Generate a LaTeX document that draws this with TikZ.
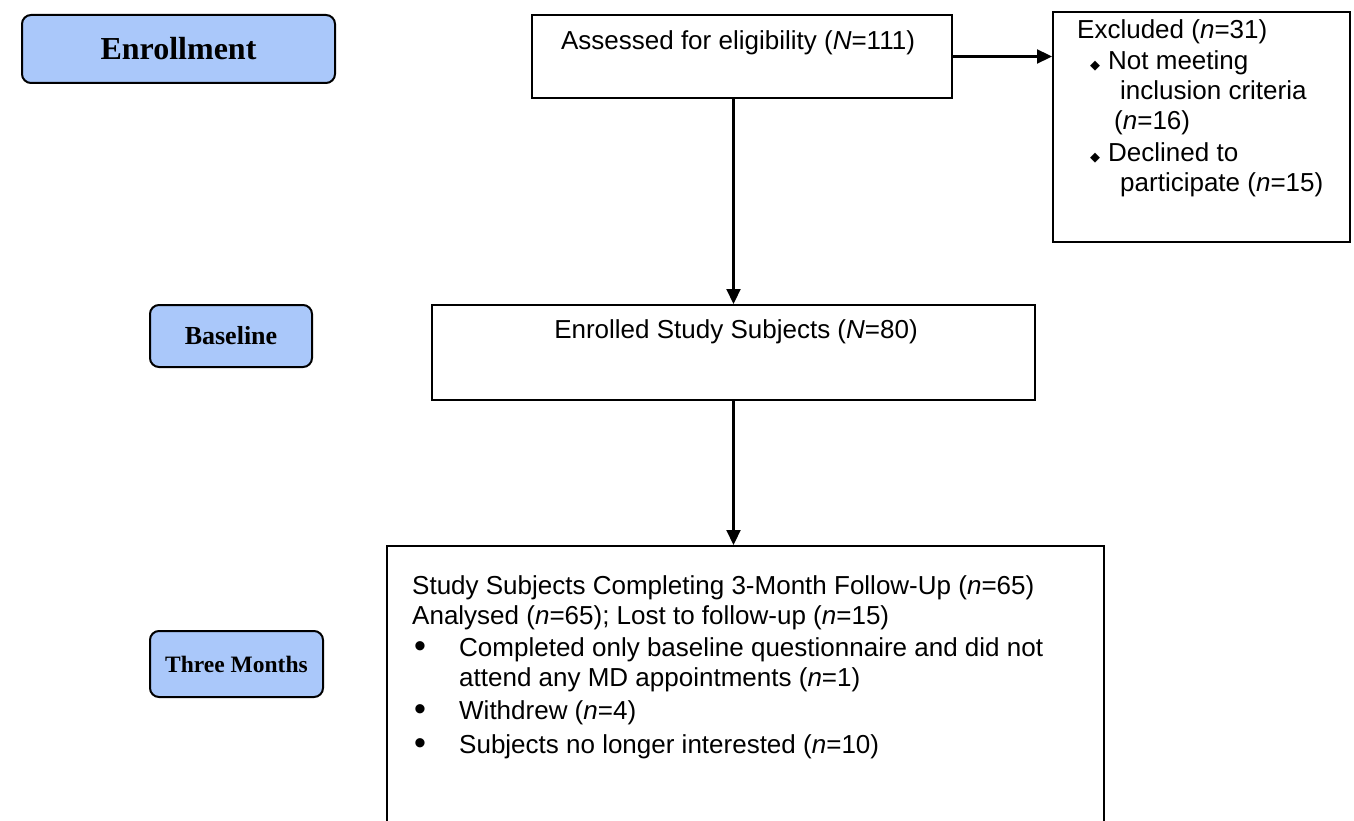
\documentclass[tikz,border=0pt]{standalone}
\usepackage{fontspec}
\setmainfont{Liberation Sans}
\newfontfamily\stagefont{Liberation Serif}
\newfontfamily\symfont{DejaVu Sans}
\usetikzlibrary{arrows.meta}

\definecolor{stageblue}{RGB}{170,200,250}

% bullets used in the boxes
\newcommand{\diaitem}{\makebox[31pt][l]{\hspace{13pt}{\symfont\fontsize{13}{13}\selectfont ◆}}}
\newcommand{\dotitem}{\makebox[47pt][l]{\hspace{2pt}\raisebox{-1pt}{\fontsize{34}{30}\selectfont\textbullet}}}

\tikzset{
  stage/.style={draw, line width=2pt, rounded corners=9pt, fill=stageblue,
    font=\stagefont\bfseries\fontsize{#1}{#1}\selectfont},
  flowbox/.style={draw, line width=2pt},
  flowtext/.style={inner sep=0pt, font=\fontsize{26}{30}\selectfont},
  flowarrow/.style={line width=2.2pt, -{Triangle[length=15pt,width=14pt]}}
}

\begin{document}
\begin{tikzpicture}[x=1pt,y=-1pt]
    \useasboundingbox (0,0) rectangle (1354,821);

    % stage labels
    \node[stage=32, minimum width=313pt, minimum height=68pt] (enroll) at (178.5,49) {Enrollment};
    \node[stage=26, minimum width=162pt, minimum height=62pt] (base) at (231,336) {Baseline};
    \node[stage=23.5, minimum width=173pt, minimum height=66pt] (three) at (236.5,664) {Three Months};

    % flow boxes
    \node[flowbox, minimum width=420pt, minimum height=83pt] (assessed) at (742,56.5) {};
    \node[flowtext] (assessedtxt) at (738,43) {Assessed for eligibility (\textit{N}=111)};

    \node[flowbox, minimum width=297pt, minimum height=230pt] (excluded) at (1201.5,127) {};
    \node[flowtext, anchor=north west, align=left] (excludedtxt) at (1077,19) {%
        Excluded (\textit{n}=31)\\[1pt]
        \diaitem Not meeting\\
        \hspace*{43pt}inclusion criteria\\
        \hspace*{37pt}(\textit{n}=16)\\[2pt]
        \diaitem Declined to\\
        \hspace*{43pt}participate (\textit{n}=15)};

    \node[flowbox, minimum width=603pt, minimum height=95pt] (enrolled) at (733.5,352.5) {};
    \node[flowtext] (enrolledtxt) at (736,332) {Enrolled Study Subjects (\textit{N}=80)};

    \node[flowbox, minimum width=717pt, minimum height=290pt] (followup) at (745.5,691) {};
    \node[flowtext, anchor=north west, align=left] (followuptxt) at (412,575) {%
        Study Subjects Completing 3-Month Follow-Up (\textit{n}=65)\\
        Analysed (\textit{n}=65); Lost to follow-up (\textit{n}=15)\\[2pt]
        \dotitem Completed only baseline questionnaire and did not\\
        \hspace*{47pt}attend any MD appointments (\textit{n}=1)\\[3pt]
        \dotitem Withdrew (\textit{n}=4)\\[4pt]
        \dotitem Subjects no longer interested (\textit{n}=10)};

    % connectors
    \draw[flowarrow] (assessed.east) -- (excluded.west |- assessed.east);
    \draw[flowarrow] (enrolled.north |- assessed.south) -- (enrolled.north);
    \draw[flowarrow] (enrolled.south) -- (enrolled.south |- followup.north);

\end{tikzpicture}
\end{document}
